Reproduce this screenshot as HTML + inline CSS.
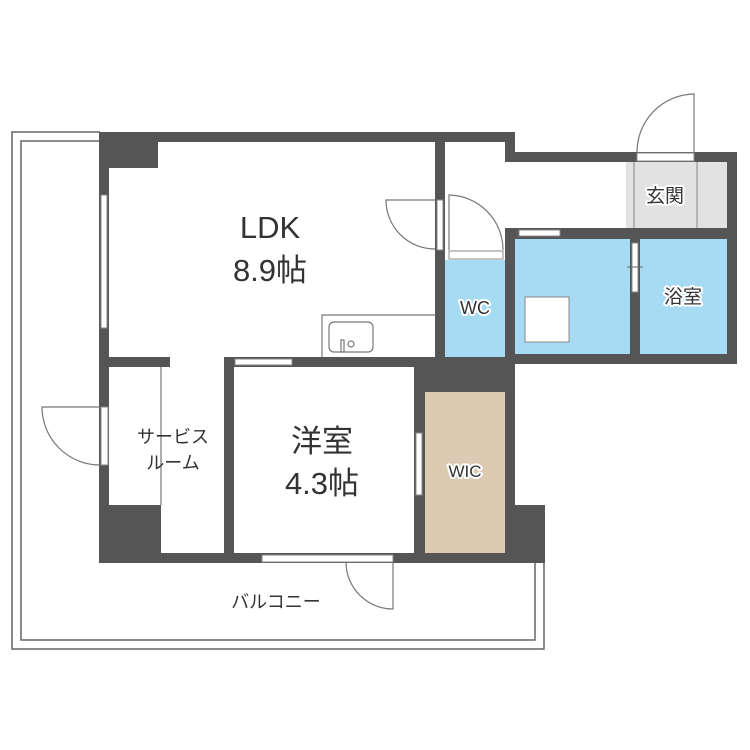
<!DOCTYPE html>
<html><head><meta charset="utf-8"><style>
html,body{margin:0;padding:0;background:#fff;}
svg{display:block;}
text{font-family:"Liberation Sans","Noto Sans CJK JP",sans-serif;fill:#333;}
.h{stroke:#fff;stroke-width:4;paint-order:stroke;stroke-linejoin:round;}
</style></head><body>
<svg width="750" height="750" viewBox="0 0 750 750" xmlns="http://www.w3.org/2000/svg">
<rect width="750" height="750" fill="#fff"/>
<!-- balcony outlines -->
<g fill="none" stroke="#666" stroke-width="1.5">
<polyline points="100,132 12,132 12,649 544,649 544,563"/>
<polyline points="100,141 21,141 21,640 535,640 535,563"/>
</g>
<!-- room fills -->
<rect x="626" y="162" width="101" height="66" fill="#e2e2e2"/>
<line x1="634" y1="162" x2="634" y2="228" stroke="#888" stroke-width="1"/>
<line x1="697" y1="162" x2="697" y2="228" stroke="#888" stroke-width="1"/>
<rect x="445" y="260" width="60" height="97" fill="#a6dbf3"/>
<rect x="515" y="239" width="115" height="115" fill="#a6dbf3"/>
<rect x="640" y="239" width="87" height="115" fill="#a6dbf3"/>
<rect x="425" y="392" width="80" height="161" fill="#dccbb3"/>
<!-- walls -->
<g fill="#555">
<rect x="99" y="132" width="416" height="10"/>
<rect x="99" y="132" width="59" height="36"/>
<rect x="99" y="132" width="10" height="431"/>
<rect x="505" y="132" width="10" height="30"/>
<rect x="505" y="152" width="232" height="10"/>
<rect x="727" y="152" width="10" height="212"/>
<rect x="435" y="142" width="10" height="225"/>
<rect x="505" y="228" width="232" height="11"/>
<rect x="505" y="228" width="10" height="335"/>
<rect x="630" y="239" width="10" height="115"/>
<rect x="505" y="354" width="232" height="10"/>
<rect x="109" y="357" width="61" height="10"/>
<rect x="224" y="357" width="221" height="10"/>
<rect x="224" y="357" width="10" height="206"/>
<rect x="414" y="357" width="101" height="35"/>
<rect x="414" y="357" width="11" height="206"/>
<rect x="99" y="505" width="62" height="58"/>
<rect x="99" y="553" width="446" height="10"/>
<rect x="505" y="505" width="40" height="58"/>
</g>
<!-- windows / openings -->
<g fill="#fff" stroke="#888" stroke-width="1">
<rect x="101" y="195" width="6" height="133"/>
<rect x="235" y="359" width="57" height="6"/>
<rect x="519" y="230" width="41" height="6"/>
<rect x="416" y="433" width="6" height="62"/>
<rect x="262" y="555" width="131" height="7"/>
<rect x="101" y="407" width="7" height="58"/>
<rect x="632" y="243" width="6" height="49"/>
<rect x="437" y="200" width="6" height="50"/>
<rect x="449" y="251" width="54" height="8"/>
<rect x="637" y="153" width="57" height="8"/>
<rect x="525" y="297" width="44" height="45"/>
</g>
<line x1="627" y1="267" x2="643" y2="267" stroke="#666" stroke-width="1"/>
<!-- doors -->
<g fill="none" stroke="#777" stroke-width="1.2">
<path d="M694,152 L694,94 A58,58 0 0 0 637,152"/>
<path d="M435,200 L386,200 A49,49 0 0 0 435,249"/>
<path d="M449,250 L449,195 A55,55 0 0 1 503,250"/>
<path d="M100,407 L42,407 A58,58 0 0 0 100,465"/>
<path d="M393,563 L393,609 A47,47 0 0 1 346,563"/>
<line x1="161" y1="367" x2="161" y2="505"/>
</g>
<!-- kitchen -->
<g fill="none" stroke="#777" stroke-width="1.2">
<polyline points="322,357 322,315 435,315"/>
<rect x="329" y="322" width="44" height="30" rx="5"/>
<rect x="341" y="340" width="3" height="12"/>
<circle cx="351" cy="344" r="3"/>
</g>
<!-- labels -->
<text x="270" y="238" font-size="31" text-anchor="middle">LDK</text>
<text x="270" y="281" font-size="31" text-anchor="middle">8.9帖</text>
<text x="322" y="452" font-size="31" text-anchor="middle">洋室</text>
<text x="322" y="494" font-size="31" text-anchor="middle">4.3帖</text>
<text x="173" y="443" font-size="18" text-anchor="middle">サービス</text>
<text x="173" y="469" font-size="18" text-anchor="middle">ルーム</text>
<text x="276" y="608" font-size="18" text-anchor="middle">バルコニー</text>
<text class="h" x="475" y="314" font-size="18" text-anchor="middle">WC</text>
<text class="h" x="683" y="303" font-size="19" text-anchor="middle">浴室</text>
<text class="h" x="665" y="202" font-size="19" text-anchor="middle">玄関</text>
<text class="h" x="465" y="477" font-size="17" text-anchor="middle">WIC</text>
</svg>
</body></html>
